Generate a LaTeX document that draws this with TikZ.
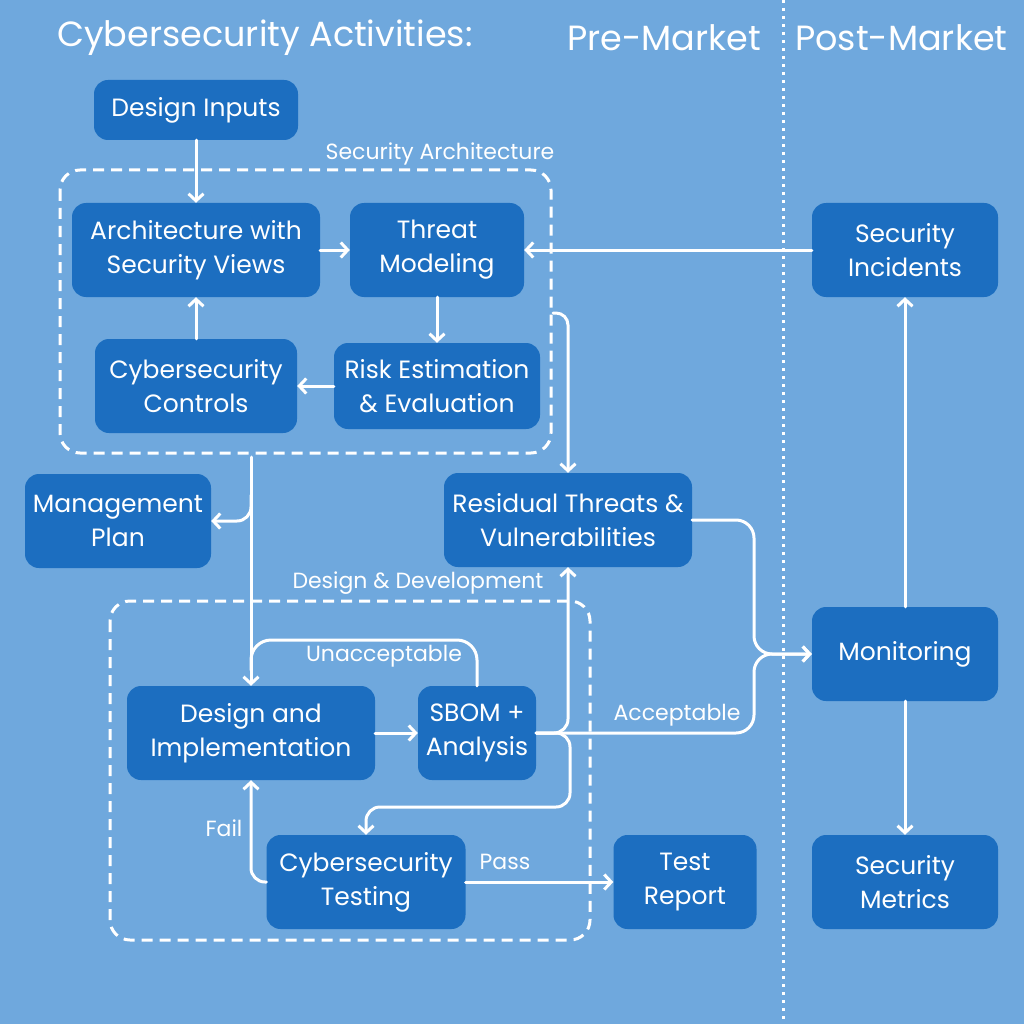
\documentclass[tikz,border=0pt]{standalone}
\usepackage{fontspec}
\setmainfont{Poppins}
\usetikzlibrary{arrows.meta}
\definecolor{bgc}{RGB}{111,168,221}
\definecolor{boxc}{RGB}{28,110,192}
\tikzset{
  box/.style={fill=boxc, rounded corners=14pt, text=white, align=center,
    font=\fontsize{25}{34}\selectfont, minimum height=94pt, inner sep=0pt},
  conn/.style={draw=white, line width=3pt, line cap=round, line join=round},
  arr/.style={conn, -{Straight Barb[length=7pt,width=15pt,line width=3pt]}},
  dashbox/.style={draw=white, line width=3pt, dash pattern=on 11pt off 7pt, rounded corners=20pt},
  lbl/.style={text=white, font=\fontsize{22}{26}\selectfont, inner sep=0pt},
  ttl/.style={text=white, font=\fontsize{35}{40}\selectfont, inner sep=0pt}
}
\begin{document}
\begin{tikzpicture}[x=1pt,y=-1pt]
\fill[bgc] (0,0) rectangle (1024,1024);
\useasboundingbox (0,0) rectangle (1024,1024);

% titles
\node[ttl, anchor=west] (t1) at (57,38) {Cybersecurity Activities:};
\node[ttl, anchor=east] (t2) at (761,38) {Pre-Market};
\node[ttl, anchor=west] (t3) at (795,38) {Post-Market};
\draw[white, line width=3pt, dash pattern=on 3pt off 5pt] (783,0) -- (783,1024);

% dashed groups
\draw[dashbox] (60,170) rectangle (551,453);
\node[lbl] (lsa) at (440,154) {Security Architecture};
\draw[dashbox] (110,601) rectangle (590,940);
\node[lbl] (ldd) at (418,583) {Design \& Development};

% boxes
\node[box, minimum width=204pt, minimum height=60pt] (di) at (196,110) {Design Inputs};
\node[box, minimum width=248pt] (arch) at (196,250) {Architecture with\\Security Views};
\node[box, minimum width=174pt] (threat) at (437,250) {Threat\\Modeling};
\node[box, minimum width=202pt] (ctrl) at (196,386) {Cybersecurity\\Controls};
\node[box, minimum width=206pt, minimum height=86pt] (risk) at (437,386) {Risk Estimation\\\& Evaluation};
\node[box, minimum width=186pt] (mgmt) at (118,521) {Management\\Plan};
\node[box, minimum width=248pt] (res) at (568,520) {Residual Threats \&\\Vulnerabilities};
\node[box, minimum width=248pt] (des) at (251,733) {Design and\\Implementation};
\node[box, minimum width=118pt] (sbom) at (477,733) {SBOM +\\Analysis};
\node[box, minimum width=199pt] (test) at (366,882) {Cybersecurity\\Testing};
\node[box, minimum width=143pt] (rep) at (685,882) {Test\\Report};
\node[box, minimum width=186pt] (inc) at (905,250) {Security\\Incidents};
\node[box, minimum width=186pt] (mon) at (905,654) {Monitoring};
\node[box, minimum width=186pt] (met) at (905,882) {Security\\Metrics};

% coordinates
\coordinate (sa1) at (553,313);
\coordinate (sa2) at (251,457);
\coordinate (mg0) at (251,495);
\coordinate (ua) at (251,640);
\coordinate (mj) at (754,654);
\coordinate (tj) at (570,807);

% connectors
\draw[arr] (di.south) -- (arch.north);
\draw[arr] (arch.east) -- (threat.west);
\draw[arr] (threat.south) -- (risk.north);
\draw[arr] (risk.west) -- (ctrl.east);
\draw[arr] (ctrl.north) -- (arch.south);
\draw[arr] (inc.west) -- (threat.east);
\draw[arr, rounded corners=12pt] (sa1) -| (res.north);
\draw[arr] (sa2) -- (des.north);
\draw[arr, rounded corners=14pt] (mg0) |- (mgmt.east);
\draw[conn, rounded corners=20pt] (sbom.north) |- (ua) -- ++(0,30);
\node[lbl] (lun) at (384,656) {Unacceptable};
\draw[arr] (des.east) -- (sbom.west);
\draw[arr, rounded corners=14pt] (sbom.east) -| (res.south);
\draw[arr, rounded corners=14pt] (sbom.east) -| (tj) -| (test.north);
\draw[arr, rounded corners=18pt] (sbom.east) -| (mj) -- (mon.west);
\draw[arr, rounded corners=18pt] (res.east) -| (mj) -- (mon.west);
\node[lbl] (lac) at (677,715) {Acceptable};
\draw[arr, rounded corners=14pt] (test.west) -| (des.south);
\node[lbl] (lfa) at (224,828) {Fail};
\draw[arr] (test.east) -- (rep.west);
\node[lbl] (lpa) at (505,862) {Pass};
\draw[arr] (mon.north) -- (inc.south);
\draw[arr] (mon.south) -- (met.north);
\end{tikzpicture}
\end{document}
